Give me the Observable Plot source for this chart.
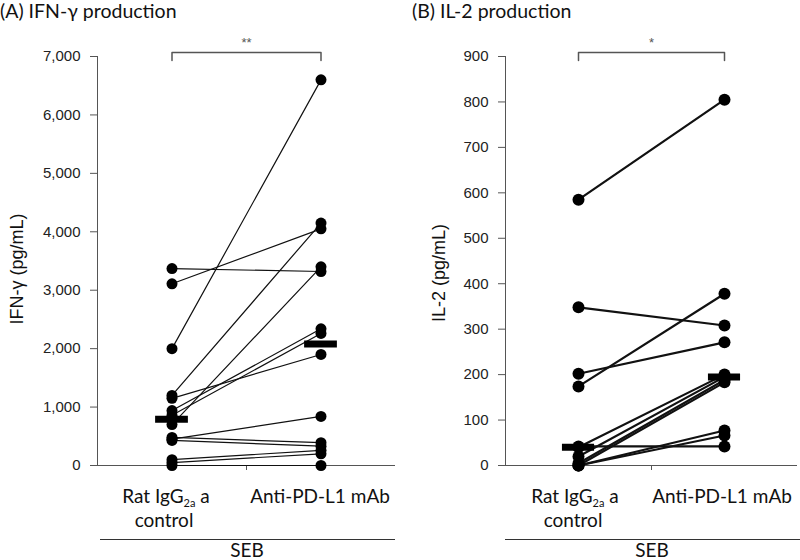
<!DOCTYPE html>
<html><head><meta charset="utf-8">
<script src="https://cdn.jsdelivr.net/npm/d3@7"></script>
<script src="https://cdn.jsdelivr.net/npm/@observablehq/plot@0.6"></script>
<style>
body{margin:0;background:#fff;}
#wrap{position:relative;width:800px;height:560px;overflow:hidden;font-family:Lato,"Open Sans",sans-serif;color:#111;}
.abs{position:absolute;white-space:nowrap;}
.title{font-size:19.5px;top:0px;line-height:22px;}
.c{font-size:19px;transform:translate(-50%,-50%);line-height:20px;}
.c sub{font-size:11px;vertical-align:-4px;line-height:0;}
.ylab{font-family:"Liberation Sans",Arial,sans-serif;font-size:18px;line-height:20px;transform:translate(-50%,-50%) rotate(-90deg);}
.hl{position:absolute;height:1px;background:#333;}
.panel{position:absolute;top:0;}
</style></head><body><div id="wrap"></div>
<script>
// Categories
const groups = ["Rat IgG2a control", "Anti-PD-L1 mAb"];
// (A) IFN-γ, paired per donor (pg/mL)
const ifnRat  = [3370, 3110, 2000, 1200, 1150, 940, 860, 700, 480, 450, 430, 100, 50, 0];
const ifnAnti = [3320, 4050, 6600, 4150, 1900, 2340, 2260, 3400, 390, 840, 330, 260, 200, 0];
const ifnMedian = [790, 2080];
const ifnTicks = [0, 1000, 2000, 3000, 4000, 5000, 6000, 7000];
// (B) IL-2, paired per donor (pg/mL)
const il2Rat  = [585, 348, 202, 174, 42, 40, 20, 5, 0, 0, 0];
const il2Anti = [805, 308, 271, 378, 42, 200, 195, 188, 183, 77, 66];
const il2Median = [40, 195];
const il2Ticks = [0, 100, 200, 300, 400, 500, 600, 700, 800, 900];
const sigA = "**", sigB = "*";

function panel(o) {
  const pts = o.rat.flatMap((r, i) => [{id: i, g: 0, v: r}, {id: i, g: 1, v: o.anti[i]}]);
  const meds = o.median.map((v, g) => ({g, v}));
  const yMax = o.ticks[o.ticks.length - 1];
  const top = yMax * 1.01, bot = yMax * 0.99;
  const bracket = [{g: 0, v: bot}, {g: 0, v: top}, {g: 1, v: top}, {g: 1, v: bot}];
  return Plot.plot({
    width: o.width, height: 480,
    marginLeft: o.ml, marginRight: o.mr, marginTop: 56, marginBottom: 15,
    x: {type: "linear", domain: [-0.5, 1.5]},
    y: {domain: [0, yMax]},
    style: {fontFamily: "'Liberation Sans', Arial, sans-serif", fontSize: "15px", color: "#222", overflow: "visible", background: "transparent"},
    marks: [
      Plot.axisY({ticks: o.ticks, tickSize: 7, tickPadding: 10, tickFormat: o.fmt, label: null, stroke: "#555"}),
      Plot.axisX({ticks: [0.5], tickSize: 5, tickFormat: () => "", label: null, stroke: "#555"}),
      Plot.frame({anchor: "left", stroke: "#555"}),
      Plot.ruleY([0], {stroke: "#555"}),
      Plot.line(pts, {x: "g", y: "v", z: "id", stroke: "#111", strokeWidth: o.lw}),
      Plot.dot(pts, {x: "g", y: "v", r: o.r, fill: "#000", stroke: "none"}),
      Plot.ruleY(meds, {y: "v", x1: d => d.g - 0.11, x2: d => d.g + 0.11, stroke: "#000", strokeWidth: 7}),
      Plot.line(bracket, {x: "g", y: "v", stroke: "#555", strokeWidth: 1.5}),
      Plot.text([o.sig], {x: 0.5, y: top, dy: -10, text: d => d, fill: "#555", fontSize: 13})
    ]
  });
}

const wrap = document.getElementById("wrap");
const pA = panel({rat: ifnRat, anti: ifnAnti, median: ifnMedian, ticks: ifnTicks, fmt: d3.format(","), sig: sigA,
  width: 400, ml: 97, mr: 5, lw: 1.2, r: 5.5});
pA.classList.add("panel"); pA.style.left = "0px";
wrap.appendChild(pA);
const pB = panel({rat: il2Rat, anti: il2Anti, median: il2Median, ticks: il2Ticks, fmt: d3.format("d"), sig: sigB,
  width: 400, ml: 105, mr: 3, lw: 2.2, r: 6});
pB.classList.add("panel"); pB.style.left = "400px";
wrap.appendChild(pB);

function add(html, cls, css) {
  const d = document.createElement("div");
  d.className = "abs " + cls; d.innerHTML = html; Object.assign(d.style, css); wrap.appendChild(d); return d;
}
add("(A) IFN-γ production", "title", {left: "0px"});
add("(B) IL-2 production", "title", {left: "412px"});
add("IFN-γ (pg/mL)", "ylab", {left: "17px", top: "269px"});
add("IL-2 (pg/mL)", "ylab", {left: "439px", top: "273px"});
const ratLabel = "Rat IgG<sub>2a</sub> a";
[[166, 164, 320, 100, 395, 247], [575, 573, 722, 505, 800, 652]].forEach(([rx, cx, ax, l1, l2, sx]) => {
  add(ratLabel, "c", {left: rx + "px", top: "496px"});
  add("control", "c", {left: cx + "px", top: "520px"});
  add(groups[1], "c", {left: ax + "px", top: "496px"});
  const ln = document.createElement("div"); ln.className = "hl";
  Object.assign(ln.style, {left: l1 + "px", width: (l2 - l1) + "px", top: "539px"}); wrap.appendChild(ln);
  add("SEB", "c", {left: sx + "px", top: "550px"});
});
</script></body></html>
